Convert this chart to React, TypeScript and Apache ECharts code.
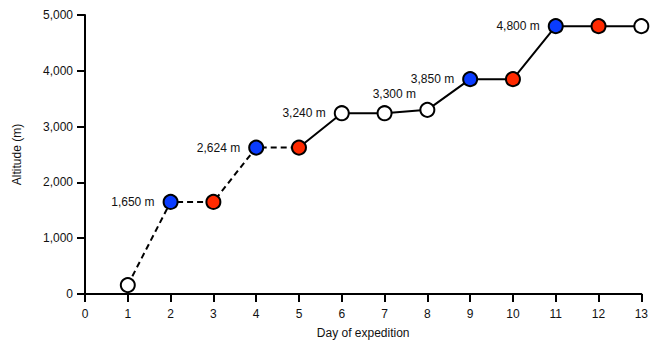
import React, { useEffect, useRef } from "react";
import * as echarts from "echarts";

const days = [1, 2, 3, 4, 5, 6, 7, 8, 9, 10, 11, 12, 13];
const altitudes = [160, 1650, 1650, 2624, 2624, 3240, 3240, 3300, 3850, 3850, 4800, 4800, 4800];
const markerColors = ["#ffffff", "#0a3cff", "#ff2a00", "#0a3cff", "#ff2a00", "#ffffff", "#ffffff", "#ffffff", "#0a3cff", "#ff2a00", "#0a3cff", "#ff2a00", "#ffffff"];
const pointLabels = ["", "1,650 m", "", "2,624 m", "", "3,240 m", "", "3,300 m", "3,850 m", "", "4,800 m", "", ""];
const dashedUntilDay = 5;

const fmt = (v: number) => v.toLocaleString("en-US");

export default function App() {
  const ref = useRef<HTMLDivElement>(null);
  useEffect(() => {
    const chart = echarts.init(ref.current!, null, { renderer: "svg" });
    const pairs = days.map((d, i) => [d, altitudes[i]]);
    const dashed = pairs.filter((p) => p[0] <= dashedUntilDay);
    const solid = pairs.filter((p) => p[0] >= dashedUntilDay);
    const font = "Liberation Sans, Arial, sans-serif";
    chart.setOption({
      animation: false,
      textStyle: { fontFamily: font },
      grid: { left: 85, right: 7, top: 15, bottom: 50 },
      xAxis: {
        type: "value",
        min: 0,
        max: 13,
        interval: 1,
        name: "Day of expedition",
        nameLocation: "middle",
        nameGap: 33,
        nameTextStyle: { color: "#111", fontSize: 12, fontFamily: font },
        axisLine: { show: true, lineStyle: { color: "#000", width: 2 } },
        axisTick: { show: true, length: 8, lineStyle: { color: "#000", width: 2 } },
        axisLabel: { color: "#111", fontSize: 12, margin: 14, fontFamily: font },
        splitLine: { show: false },
      },
      yAxis: {
        type: "value",
        min: 0,
        max: 5000,
        interval: 1000,
        name: "Altitude (m)",
        nameLocation: "middle",
        nameGap: 62,
        nameTextStyle: { color: "#111", fontSize: 12, fontFamily: font },
        axisLine: { show: true, lineStyle: { color: "#000", width: 2 } },
        axisTick: { show: true, length: 8, lineStyle: { color: "#000", width: 2 } },
        axisLabel: { color: "#111", fontSize: 12, margin: 12, formatter: (v: number) => fmt(v), fontFamily: font },
        splitLine: { show: false },
      },
      series: [
        {
          type: "line",
          data: dashed,
          showSymbol: false,
          lineStyle: { color: "#000", width: 2, type: [6, 4] },
          z: 2,
        },
        {
          type: "line",
          data: solid,
          showSymbol: false,
          lineStyle: { color: "#000", width: 2 },
          z: 2,
        },
        {
          type: "scatter",
          symbolSize: 14,
          z: 5,
          data: pairs.map((p, i) => {
            const lbl = pointLabels[i];
            const isTop = p[0] === 8;
            return {
              value: p,
              itemStyle: { color: markerColors[i], borderColor: "#000", borderWidth: 2, opacity: 1 },
              label: lbl
                ? isTop
                  ? { show: true, position: "top", offset: [-33, 3], formatter: lbl, color: "#111", fontSize: 12, fontFamily: font }
                  : { show: true, position: "left", distance: 8, formatter: lbl, color: "#111", fontSize: 12, fontFamily: font }
                : { show: false },
            };
          }),
        },
      ],
    });
    return () => chart.dispose();
  }, []);
  return <div ref={ref} style={{ width: 651, height: 344, position: "absolute", left: 0, top: 0 }} />;
}
